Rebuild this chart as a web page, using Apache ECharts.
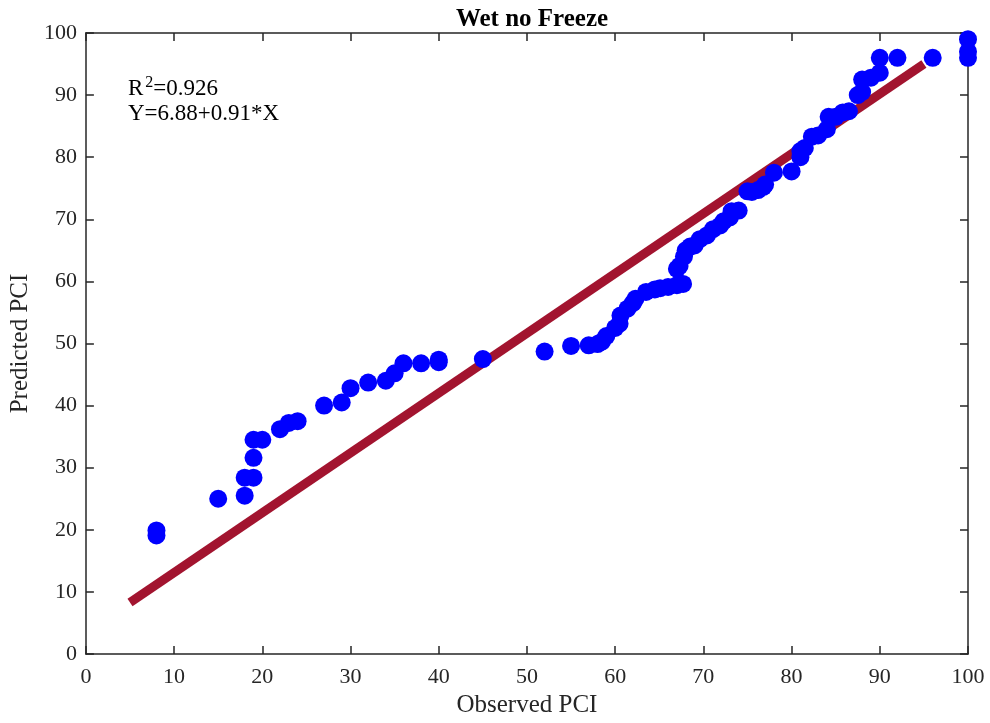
<!DOCTYPE html>
<html>
<head>
<meta charset="utf-8">
<script src="https://cdn.jsdelivr.net/npm/echarts@6/dist/echarts.min.js"></script>
<style>
  html, body { margin: 0; padding: 0; background: #fff; }
  #chart { width: 990px; height: 723px; }
</style>
</head>
<body>
<div id="chart"></div>
<script>
// observed vs predicted PCI
var observed = [8, 8, 15, 18, 18, 19, 19, 19, 20, 22, 23, 24, 27, 29, 30, 32, 34, 35, 36, 38, 40, 40, 45,
  52, 55, 57, 58, 58.5, 59, 60, 60.5, 60.6, 61.4, 62, 62.3, 63.5, 64.5, 65.1, 66, 67, 67.7, 67, 67.3, 67.8,
  68, 68.5, 69, 69.6, 70.4, 71.1, 71.9, 72.3, 73, 73.2, 74, 75, 75.5, 76.2, 76.8, 77, 78, 80, 81, 81, 81.5,
  82.3, 83, 84, 84.2, 85, 85.8, 86.5, 87.5, 88, 88, 89, 90, 90, 92, 96, 100, 100, 100];
var predicted = [19.9, 19.1, 25, 25.5, 28.4, 28.4, 31.6, 34.5, 34.5, 36.2, 37.2, 37.5, 40, 40.5, 42.8, 43.7, 44, 45.2, 46.8, 46.8, 47, 47.4, 47.5,
  48.7, 49.6, 49.7, 49.9, 50.3, 51.2, 52.5, 53.2, 54.5, 55.6, 56.5, 57.2, 58.3, 58.7, 58.9, 59.1, 59.4, 59.6, 62, 62.5, 64,
  65, 65.6, 65.8, 66.8, 67.4, 68.4, 69, 69.7, 70.3, 71.3, 71.4, 74.5, 74.4, 74.7, 75.2, 75.6, 77.5, 77.7, 80, 81, 81.5,
  83.3, 83.5, 84.5, 86.5, 86.5, 87.2, 87.4, 90, 90.5, 92.5, 92.8, 93.6, 96, 96, 96, 99, 97, 96];
// fitted line end points as drawn
var fitX = [5, 95];
var fitY = [8.3, 95];
var tickValues = [0, 10, 20, 30, 40, 50, 60, 70, 80, 90, 100];

var font = 'Liberation Serif';
var chart = echarts.init(document.getElementById('chart'));

function axisBase(pos, showLabel, margin) {
  return {
    type: 'value',
    position: pos,
    min: tickValues[0],
    max: tickValues[tickValues.length - 1],
    interval: 10,
    splitLine: { show: false },
    axisLine: { show: true, onZero: false, lineStyle: { color: '#262626', width: 1.5 } },
    axisTick: { show: true, inside: true, length: 8, lineStyle: { color: '#262626', width: 1.5 } },
    axisLabel: { show: showLabel, fontFamily: font, fontSize: 22, color: '#262626', margin: margin }
  };
}

var xMain = axisBase('bottom', true, 12);
xMain.name = 'Observed PCI';
xMain.nameLocation = 'middle';
xMain.nameGap = 39;
xMain.nameTextStyle = { fontFamily: font, fontSize: 25, color: '#262626' };

var yMain = axisBase('left', true, 9);
yMain.name = 'Predicted PCI';
yMain.nameLocation = 'middle';
yMain.nameGap = 47;
yMain.nameTextStyle = { fontFamily: font, fontSize: 25, color: '#262626' };

var pts = observed.map(function (x, i) { return [x, predicted[i]]; });

chart.setOption({
  animation: false,
  title: {
    text: 'Wet no Freeze',
    left: 527,
    textAlign: 'center',
    top: 2,
    textStyle: { fontFamily: font, fontSize: 25, fontWeight: 'bold', color: '#000' }
  },
  grid: { left: 85, right: 22, top: 33, bottom: 66 },
  xAxis: [xMain, axisBase('top', false, 9)],
  yAxis: [yMain, axisBase('right', false, 9)],
  graphic: [{
    type: 'text',
    left: 128,
    top: 75,
    style: {
      text: '{n|R}{s|2}{n|=0.926}\n{n|Y=6.88+0.91*X}',
      fill: '#000',
      rich: {
        n: { fontFamily: font, fontSize: 23, lineHeight: 25, verticalAlign: 'bottom' },
        s: { fontFamily: font, fontSize: 16, lineHeight: 25, verticalAlign: 'top', padding: [0, 0, 10, 2] }
      }
    }
  }],
  series: [{
    type: 'line',
    data: fitX.map(function (x, i) { return [x, fitY[i]]; }),
    symbol: 'none',
    lineStyle: { color: '#A2142F', width: 9, cap: 'butt' },
    z: 2
  }, {
    type: 'scatter',
    data: pts,
    symbol: 'circle',
    symbolSize: 18,
    itemStyle: { color: '#0000FF', opacity: 1 },
    z: 3
  }]
});
</script>
</body>
</html>
